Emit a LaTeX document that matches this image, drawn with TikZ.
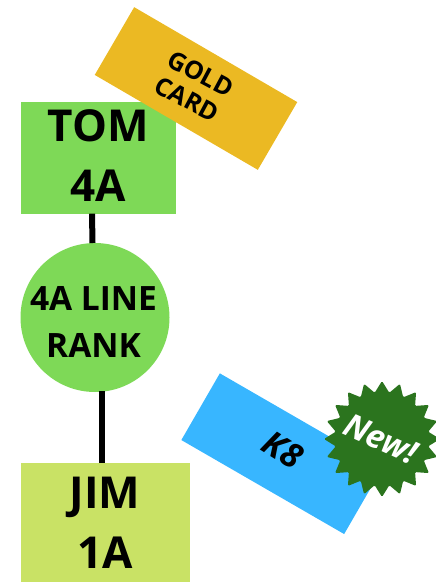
\documentclass[tikz,border=0pt]{standalone}
\usepackage{fontspec}
\setmainfont{Open Sans}
\usetikzlibrary{shapes.geometric,shapes.misc,calc}
\definecolor{boxgreen}{HTML}{7ED957}
\definecolor{boxlime}{HTML}{C9E265}
\definecolor{gold}{HTML}{EBB923}
\definecolor{sky}{HTML}{38B6FF}
\definecolor{darkgreen}{HTML}{2B741E}
\tikzset{x=1pt,y=-1pt,
 big/.style={font=\fontsize{44}{60}\selectfont\bfseries,align=center,text=black,inner sep=0pt},
 mid/.style={font=\fontsize{33.5}{47}\selectfont\bfseries,align=center,text=black,inner sep=0pt},
 small/.style={font=\fontsize{25}{29}\selectfont\bfseries,align=center,text=black,inner sep=0pt},
 conn/.style={line width=6pt,black}}
\begin{document}
\begin{tikzpicture}
\useasboundingbox (0,0) rectangle (436,582);
\node[fill=boxgreen,minimum width=155pt,minimum height=112pt,inner sep=0pt] (tom) at (98,157.5) {};
\node[big] (tomt) at (98,156) {TOM\\4A};
\node[fill=gold,minimum width=188.7pt,minimum height=78.4pt,rotate=-30.2,inner sep=0pt] (gold) at (196,88.5) {};
\node[small,rotate=-28] (goldt) at (194,86.5) {GOLD\\CARD};
\node[circle,fill=boxgreen,minimum size=149pt,inner sep=0pt] (rank) at (95,317.5) {};
\node[mid] (rankt) at (93.5,322) {4A LINE\\RANK};
\node[fill=boxlime,minimum width=169pt,minimum height=119pt,inner sep=0pt] (jim) at (105.5,522.5) {};
\node[big] (jimt) at (105,523) {JIM\\ 1A};
\draw[conn] (tom.south -| 92,0) -- (92.5,243);
\draw[conn] (102,391) -- (jim.north -| 102,0);
\node[fill=sky,minimum width=188pt,minimum height=77pt,rotate=-30,inner sep=0pt] (k8) at (282,453.7) {};
\node[font=\fontsize{34}{38}\selectfont\bfseries\itshape,rotate=-32,inner sep=0pt] (k8t) at (283,450) {K8};
\node[star,star points=20,star point ratio=1.24,fill=darkgreen,line join=round,rounded corners=1.2pt,minimum size=116pt,inner sep=0pt] (new) at (382,439) {};
\node[font=\fontsize{32.5}{38}\selectfont\bfseries\itshape,text=white,rotate=-24,inner sep=0pt] (newt) at (381,439) {New!};
\end{tikzpicture}
\end{document}
